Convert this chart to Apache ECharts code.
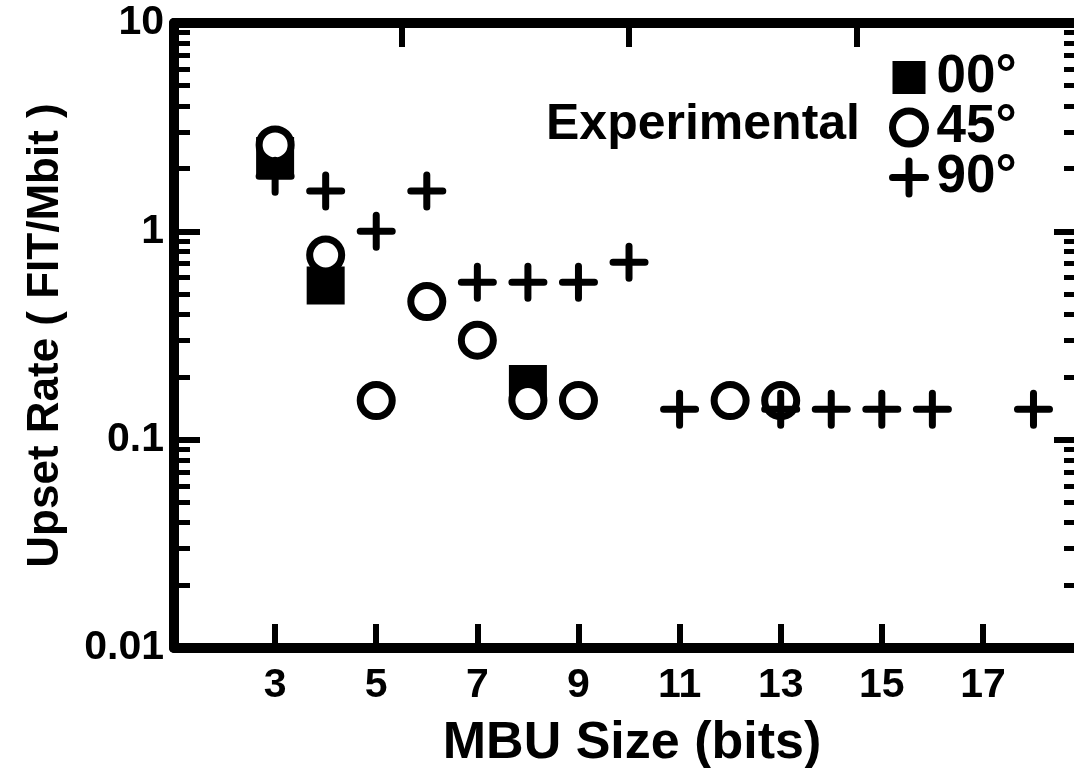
<!DOCTYPE html>
<html>
<head>
<meta charset="utf-8">
<script src="https://cdn.jsdelivr.net/npm/echarts@6/dist/echarts.min.js"></script>
<style>
html,body{margin:0;padding:0;background:#fff;}
#chart{width:1074px;height:768px;}
</style>
</head>
<body>
<div id="chart"></div>
<script>
// ---- data ----
const x00 = [3, 4, 8];
const y00 = [2.3, 0.55, 0.185];
const x45 = [3, 4, 5, 6, 7, 8, 9, 12, 13];
const y45 = [2.6, 0.77, 0.154, 0.46, 0.30, 0.154, 0.154, 0.154, 0.154];
const x90 = [3, 4, 5, 6, 7, 8, 9, 10, 11, 13, 14, 15, 16, 18];
const y90 = [1.84, 1.56, 1.0, 1.56, 0.57, 0.57, 0.57, 0.71, 0.14, 0.14, 0.14, 0.14, 0.14, 0.14];
const seriesNames = ['00°', '45°', '90°'];
const xTickLabels = ['3', '5', '7', '9', '11', '13', '15', '17'];
const legendTitle = 'Experimental';
const xTitle = 'MBU Size (bits)';
const yTitle = 'Upset Rate ( FIT/Mbit )';
const yMinorTicks = [];
[0.01, 0.1, 1].forEach(d => { for (let k = 2; k <= 9; k++) yMinorTicks.push(+(d * k).toPrecision(3)); });

const FONT = '"Liberation Sans", Arial, Helvetica, sans-serif';
const XMIN = 1, XMAX = 18.92;
const zip = (xs, ys) => xs.map((x, i) => [x, ys[i]]);
const PLUS = 'path://M16,0L16,32M0,16L32,16';

const chart = echarts.init(document.getElementById('chart'), null, {renderer: 'canvas'});
const thickLine = {show: true, lineStyle: {color: '#000', width: 10}};
const majorTick = {show: true, inside: true, length: 26, lineStyle: {color: '#000', width: 6}};
const minorTick = {show: true, inside: true, length: 16, customValues: yMinorTicks, lineStyle: {color: '#000', width: 5}};

chart.setOption({
  animation: false,
  backgroundColor: '#fff',
  grid: {left: 174, top: 23, right: -6, bottom: 120, containLabel: false, outerBoundsMode: 'none'},
  xAxis: [
    {
      type: 'value', min: XMIN, max: XMAX, interval: 2, position: 'bottom',
      axisLine: thickLine, axisTick: {show: true, inside: true, length: 24, lineStyle: {color: '#000', width: 6}},
      splitLine: {show: false},
      axisLabel: {
        margin: 17, color: '#000', fontFamily: FONT, fontWeight: 'bold', fontSize: 41,
        showMaxLabel: false,
        formatter: v => (xTickLabels.indexOf(String(v)) >= 0 ? String(v) : '')
      },
      name: xTitle, nameLocation: 'middle', nameGap: 70,
      nameTextStyle: {color: '#000', fontFamily: FONT, fontWeight: 'bold', fontSize: 52, padding: [0, 0, 0, 10]}
    },
    {
      type: 'value', min: 0, max: (XMAX - XMIN) / 4.5, interval: 1, position: 'top',
      axisLine: thickLine, axisTick: {show: true, inside: true, length: 24, lineStyle: {color: '#000', width: 6}},
      axisLabel: {show: false}, splitLine: {show: false}
    }
  ],
  yAxis: [
    {
      type: 'log', logBase: 10, min: 0.01, max: 10, position: 'left',
      axisLine: thickLine, axisTick: majorTick, splitLine: {show: false},
      axisLabel: {margin: 10, color: '#000', fontFamily: FONT, fontWeight: 'bold', fontSize: 41},
      name: yTitle, nameLocation: 'middle', nameGap: 106,
      nameTextStyle: {color: '#000', fontFamily: FONT, fontWeight: 'bold', fontSize: 44}
    },
    {
      type: 'log', logBase: 10, min: 0.01, max: 10, position: 'right',
      axisLine: thickLine, axisTick: majorTick, axisLabel: {show: false}, splitLine: {show: false}
    },
    {
      type: 'log', logBase: 10, min: 0.01, max: 10, position: 'left', offset: 0,
      axisLine: {show: false}, axisLabel: {show: false}, splitLine: {show: false}, axisTick: minorTick
    },
    {
      type: 'log', logBase: 10, min: 0.01, max: 10, position: 'right', offset: 0,
      axisLine: {show: false}, axisLabel: {show: false}, splitLine: {show: false}, axisTick: minorTick
    }
  ],
  legend: {
    orient: 'vertical', left: 889, top: 51, padding: 0, itemWidth: 33, itemHeight: 33, itemGap: -3,
    textStyle: {color: '#000', fontFamily: FONT, fontWeight: 'bold', fontSize: 53, padding: [0, 0, 0, 6]},
    data: [
      {name: seriesNames[0]},
      {name: seriesNames[1], itemStyle: {borderWidth: 7, borderColor: '#000', color: '#fff'}},
      {name: seriesNames[2], itemStyle: {borderWidth: 7, borderColor: '#000', borderCap: 'round'}}
    ]
  },
  graphic: [{
    type: 'text', left: 546, top: 100, z: 10,
    style: {text: legendTitle, fill: '#000', font: 'bold 50px ' + FONT}
  }],
  series: [
    {
      name: seriesNames[0], type: 'scatter', z: 2, symbol: 'rect', symbolSize: 38,
      itemStyle: {color: '#000', opacity: 1}, data: zip(x00, y00)
    },
    {
      name: seriesNames[1], type: 'scatter', z: 3, symbol: 'circle', symbolSize: 32,
      itemStyle: {color: '#fff', borderColor: '#000', borderWidth: 7, opacity: 1}, data: zip(x45, y45)
    },
    {
      name: seriesNames[2], type: 'scatter', z: 4, symbol: PLUS, symbolSize: 32,
      itemStyle: {color: 'rgba(0,0,0,0)', borderColor: '#000', borderWidth: 7, borderCap: 'round', opacity: 1},
      data: zip(x90, y90)
    }
  ]
});
</script>
</body>
</html>
